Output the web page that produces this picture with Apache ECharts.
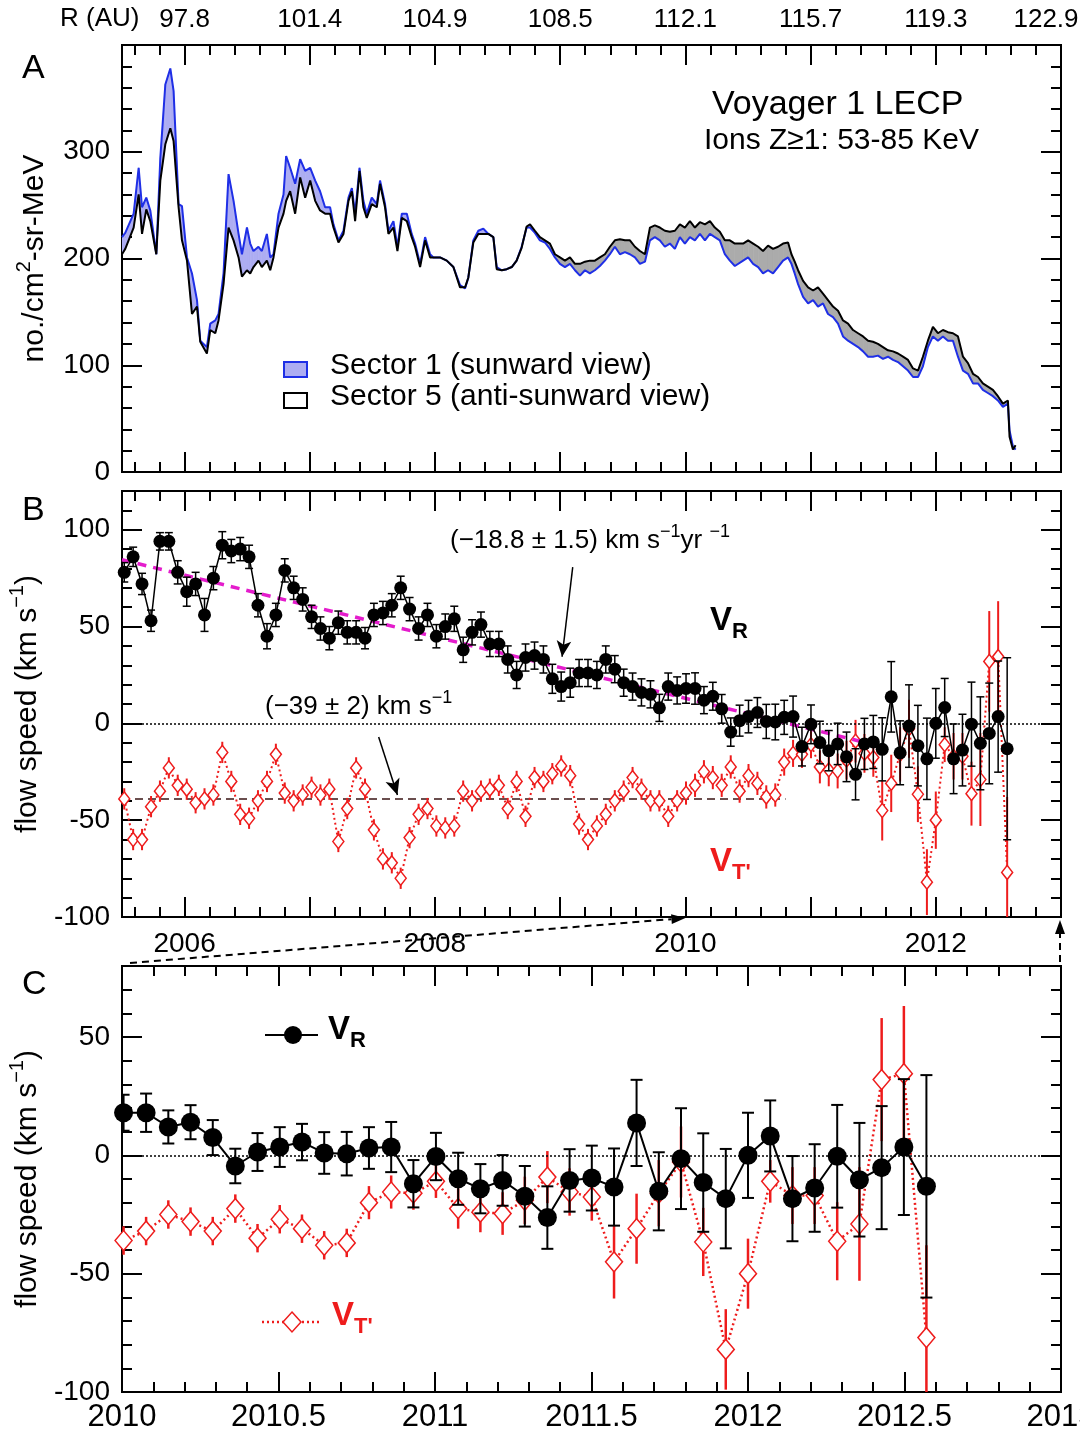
<!DOCTYPE html>
<html>
<head>
<meta charset="utf-8">
<title>Voyager 1 LECP</title>
<script src="https://cdn.jsdelivr.net/npm/echarts@6.0.0/dist/echarts.min.js"></script>
<style>
  html, body { margin: 0; padding: 0; background: #fff; }
  #chart { width: 1080px; height: 1437px; }
</style>
</head>
<body>
<div id="chart"></div>
<script>
// ---------- Panel A: 53-85 keV ion intensity, two LECP sectors ----------
const aYears = [
  2005.500, 2005.526, 2005.593, 2005.633, 2005.660, 2005.694, 2005.726, 2005.774, 2005.806, 2005.846,
  2005.886, 2005.912, 2005.952, 2005.979, 2006.019, 2006.059, 2006.099, 2006.125, 2006.178, 2006.205,
  2006.245, 2006.271, 2006.311, 2006.351, 2006.391, 2006.431, 2006.458, 2006.498, 2006.524, 2006.550,
  2006.590, 2006.617, 2006.657, 2006.684, 2006.710, 2006.750, 2006.790, 2006.811, 2006.843, 2006.883,
  2006.923, 2006.963, 2007.003, 2007.043, 2007.082, 2007.122, 2007.162, 2007.189, 2007.229, 2007.269,
  2007.309, 2007.336, 2007.362, 2007.397, 2007.428, 2007.455, 2007.495, 2007.535, 2007.561, 2007.601,
  2007.628, 2007.668, 2007.700, 2007.735, 2007.775, 2007.814, 2007.841, 2007.881, 2007.921, 2007.961,
  2007.987, 2008.040, 2008.094, 2008.147, 2008.200, 2008.240, 2008.266, 2008.306, 2008.346, 2008.386,
  2008.426, 2008.466, 2008.493, 2008.533, 2008.573, 2008.613, 2008.652, 2008.692, 2008.732, 2008.759,
  2008.798, 2008.838, 2008.878, 2008.918, 2008.958, 2008.998, 2009.038, 2009.078, 2009.118, 2009.158,
  2009.198, 2009.237, 2009.277, 2009.317, 2009.357, 2009.397, 2009.437, 2009.477, 2009.517, 2009.557,
  2009.597, 2009.637, 2009.677, 2009.717, 2009.756, 2009.796, 2009.836, 2009.876, 2009.916, 2009.956,
  2009.996, 2010.036, 2010.076, 2010.116, 2010.156, 2010.196, 2010.235, 2010.275, 2010.315, 2010.355,
  2010.395,
  2010.461, 2010.501, 2010.541, 2010.581, 2010.620, 2010.660, 2010.700, 2010.740, 2010.780, 2010.820,
  2010.847, 2010.873, 2010.900, 2010.940, 2010.980, 2011.020, 2011.059, 2011.099, 2011.139, 2011.179,
  2011.219, 2011.259, 2011.299, 2011.339, 2011.379, 2011.419, 2011.459, 2011.498, 2011.538, 2011.578,
  2011.618, 2011.658, 2011.698, 2011.738, 2011.778, 2011.818, 2011.858, 2011.897, 2011.937, 2011.977,
  2012.017, 2012.057, 2012.097, 2012.137, 2012.177, 2012.217, 2012.257, 2012.297, 2012.337, 2012.376,
  2012.416, 2012.456, 2012.496, 2012.536, 2012.576, 2012.589, 2012.616, 2012.637
];
// Sector 1 (sunward view)
const aSector1 = [
  220, 224, 242, 285, 248, 257, 245, 204, 294, 363,
  378, 357, 251, 249, 201, 186, 161, 123, 117, 139,
  142, 148, 186, 279, 254, 223, 204, 229, 214, 207,
  211, 207, 223, 201, 204, 242, 260, 296, 285, 270,
  293, 282, 285, 273, 263, 248, 248, 232, 217, 226,
  257, 266, 242, 285, 254, 242, 257, 251, 273, 251,
  226, 235, 211, 242, 242, 223, 214, 195, 220, 204,
  201, 201, 198, 192, 175, 172, 182, 217, 226, 228,
  223, 220, 192, 189, 190, 192, 198, 211, 229, 229,
  224, 217, 215, 209, 201, 195, 192, 195, 189, 184,
  189, 186, 189, 193, 198, 204, 211, 204, 206, 204,
  201, 195, 197, 217, 220, 217, 211, 214, 209, 220,
  214, 220, 217, 223, 217, 223, 220, 217, 204, 198,
  193,
  198, 201, 195, 192, 186, 189, 186, 192, 198, 201,
  195, 186, 176, 164, 158, 161, 155, 158, 148, 145,
  139, 127, 123, 120, 117, 113, 108, 108, 109, 106,
  108, 105, 103, 99, 95, 89, 89, 99, 117, 127,
  123, 127, 123, 123, 108, 95, 92, 83, 83, 77,
  74, 71, 67, 61, 64, 39, 24, 21
];
// Sector 5 (anti-sunward view)
const aSector5 = [
  204, 209, 229, 260, 223, 246, 235, 204, 273, 307,
  322, 310, 248, 217, 198, 148, 155, 122, 111, 133,
  130, 142, 176, 229, 217, 201, 183, 189, 186, 192,
  198, 192, 198, 189, 201, 229, 242, 254, 263, 242,
  276, 257, 273, 254, 245, 242, 242, 229, 215, 223,
  254, 263, 235, 282, 248, 238, 251, 248, 270, 248,
  223, 229, 207, 238, 235, 220, 211, 192, 217, 201,
  201, 201, 198, 192, 173, 173, 182, 215, 223, 223,
  223, 220, 190, 189, 190, 192, 198, 210, 230, 232,
  226, 220, 217, 214, 204, 201, 198, 201, 195, 195,
  197, 198, 198, 201, 204, 211, 217, 218, 217, 217,
  211, 207, 204, 229, 231, 229, 226, 225, 226, 232,
  229, 235, 229, 234, 232, 235, 229, 225, 217, 217,
  214,
  214, 217, 214, 211, 207, 212, 209, 211, 214, 215,
  204, 197, 189, 179, 173, 170, 173, 167, 161, 155,
  151, 142, 139, 133, 130, 127, 123, 122, 120, 117,
  114, 113, 111, 108, 105, 97, 95, 108, 123, 136,
  130, 133, 131, 130, 127, 108, 102, 92, 89, 83,
  80, 77, 71, 64, 67, 33, 21, 25
];

// Heliocentric distance printed on the top axis of panel A
const rYears = [2006, 2007, 2008, 2009, 2010, 2011, 2012, 2013];
const rLabels = ['97.8', '101.4', '104.9', '108.5', '112.1', '115.7', '119.3', '122.9'];

// ---------- Panels B and C: 26-day averaged flow speeds ----------
const flowYears = [
  2005.518, 2005.589, 2005.660, 2005.732, 2005.803, 2005.874, 2005.945, 2006.017, 2006.088, 2006.159,
  2006.230, 2006.301, 2006.373, 2006.444, 2006.515, 2006.586, 2006.658, 2006.729, 2006.800, 2006.871,
  2006.943, 2007.014, 2007.085, 2007.156, 2007.228, 2007.299, 2007.370, 2007.441, 2007.512, 2007.584,
  2007.655, 2007.726, 2007.797, 2007.869, 2007.940, 2008.011, 2008.082, 2008.154, 2008.225, 2008.296,
  2008.367, 2008.438, 2008.510, 2008.581, 2008.652, 2008.723, 2008.795, 2008.866, 2008.937, 2009.008,
  2009.080, 2009.151, 2009.222, 2009.293, 2009.364, 2009.436, 2009.507, 2009.578, 2009.649, 2009.721,
  2009.792, 2009.863, 2009.934, 2010.005, 2010.077, 2010.148, 2010.219, 2010.290, 2010.362, 2010.433,
  2010.504, 2010.575, 2010.646, 2010.718, 2010.789, 2010.860, 2010.931, 2011.003, 2011.074, 2011.145,
  2011.216, 2011.287, 2011.359, 2011.430, 2011.501, 2011.572, 2011.644, 2011.715, 2011.786, 2011.857,
  2011.929, 2012.000, 2012.071, 2012.142, 2012.213, 2012.285, 2012.356, 2012.427, 2012.498, 2012.570
];
// radial component V_R (km/s) and its uncertainty
const vR = [
  78, 86, 72, 53, 94, 94, 78, 68, 72, 56,
  75, 92, 89, 90, 86, 61, 45, 56, 79, 70,
  64, 55, 49, 44, 52, 47, 47, 44, 56, 57,
  61, 70, 59, 49, 56, 45, 50, 54, 38, 47,
  51, 41, 41, 33, 25, 34, 35, 33, 23, 19,
  21, 26, 26, 25, 33, 28, 21, 19, 16, 15,
  8, 19, 17, 18, 18, 12, 14, 7.5, -4.5, 1.4,
  3.5, 5.6, 1, 0.7, 3.1, 3.5, -12, -0.5, -9.9, -14.1,
  -10.6, -17.3, -26.3, -10.6, -9.6, -13.4, 13.7, -15.2, -1.4, -11.5,
  -18.3, 0, 8.2, -18.3, -13.8, -0.4, -10.3, -5.2, 3.5, -13.1
];
const vRErr = [
  5, 5, 5.5, 5.5, 4.5, 4.5, 6, 7.5, 6, 8.5,
  6, 7, 6, 6, 6, 6, 6.5, 6, 6, 6,
  6, 6, 6, 6, 6, 6, 6, 5.5, 6, 6,
  6, 6, 6, 6, 6, 6, 6.5, 6.5, 6.5, 6.5,
  6.5, 6.5, 6.5, 7, 7, 7, 7, 7, 7.5, 7.5,
  7.5, 7, 7, 7, 7, 7, 7, 7, 7, 7,
  7, 7, 7, 7.6, 8.1, 7, 7.2, 7.4, 7.3, 8,
  8.4, 7.7, 8.8, 9.2, 8.8, 10.6, 10, 10, 11, 10.4,
  10.7, 12.8, 13.2, 13.2, 13.7, 16.3, 18.2, 16.5, 21.3, 20.8,
  21, 18, 15, 18, 18.5, 21.7, 24, 26, 28.7, 47
];
// tangential component V_T' (km/s) and its uncertainty
const vT = [
  -39, -60, -60, -43, -35, -23, -32, -34, -41, -39,
  -37, -15, -30, -47, -49, -40, -30, -16, -36, -40,
  -37, -33, -37, -34, -61, -44, -23, -34, -55, -70,
  -72, -80, -59, -47, -44, -53, -54, -53, -35, -40,
  -35, -34, -32, -44, -30, -48, -28, -30, -26, -22,
  -27, -52, -60, -53, -47, -40, -35, -28, -34, -40,
  -40, -48, -40, -36, -32, -25, -28, -32, -22.5, -35,
  -27, -31, -38, -37, -20, -15.5, -16, -11, -22.5, -24,
  -24.6, -19, -9.2, -15.5, -17.6, -45, -31, -16, -2.8, -36.6,
  -82, -50, -11, -17, -17, -36.3, -29, 32, 34.5, -77
];
const vTErr = [
  5.5, 5.5, 5.5, 5.5, 5.5, 5.5, 5.5, 5.5, 5.5, 5.5,
  5.5, 5.5, 5.5, 5.5, 5.5, 5.5, 5.5, 5.5, 5.5, 5.5,
  5.5, 5.5, 5.5, 5.5, 5.5, 5.5, 5.5, 5.5, 5.5, 5.5,
  5.5, 5.5, 5.5, 5.5, 5.5, 5.5, 5.5, 5.5, 5.5, 5.5,
  5.5, 5.5, 5.5, 5.5, 5.5, 5.5, 5.5, 5.5, 5.5, 5.5,
  5.5, 5.5, 5.5, 5.5, 5.5, 5.5, 5.5, 5.5, 5.5, 5.5,
  5.5, 5.5, 5.5, 6, 6, 6, 6, 6, 6, 6,
  6, 6, 6, 6, 7, 7, 7, 7, 8.5, 8.5,
  9, 10, 11, 10, 10, 15.5, 14.8, 14, 15, 14.4,
  17, 14.8, 9, 12, 12, 16.5, 24, 26, 28.6, 39
];
// linear fit to V_R and mean of V_T'
const vRTrend = [[2005.5, 84.5], [2011.5, -10.9]];
const vTMean = [[2005.5, -39], [2010.8, -39]];

// ---------- drawing ----------
const FONT = "'Liberation Sans', Arial, Helvetica, sans-serif";
const INK = '#000';
const RED = '#ee1c1c';
const BLUE = '#1f2fe6';
const LAVENDER = '#adadf2';
const GREY = '#ababab';
const MAGENTA = '#e41ccc';
const tickStyle = { color: INK, width: 2 };

const chart = echarts.init(document.getElementById('chart'), null, { renderer: 'canvas' });

function axisBase(extra) {
  return Object.assign({
    type: 'value',
    axisLine: { show: true, onZero: false, lineStyle: tickStyle },
    axisTick: { show: true, inside: true, length: 20, lineStyle: tickStyle },
    minorTick: { show: true, splitNumber: 5, length: 10, lineStyle: tickStyle },
    splitLine: { show: false },
    minorSplitLine: { show: false },
    axisLabel: { show: false }
  }, extra);
}
function labels(size, formatter, margin, rich) {
  return { show: true, fontSize: size, fontFamily: FONT, color: INK, margin: margin,
           formatter: formatter, showMinLabel: true, showMaxLabel: true, hideOverlap: false, rich: rich };
}
const supRich = (size) => ({
  t: { fontSize: size, fontFamily: FONT, color: INK, lineHeight: size + 12 },
  s: { fontSize: Math.round(size * 0.66), fontFamily: FONT, color: INK, verticalAlign: 'top', lineHeight: size + 12 }
});

const longSpan = { min: 2005.5, max: 2013, splitNumber: 8 };
const zoomSpan = { min: 2010, max: 2013, interval: 0.5 };
const aSpan = { min: 0, max: 400, interval: 100 };
const bSpan = { min: -100, max: 120, interval: 50 };
const cSpan = { min: -100, max: 80, interval: 50 };

const flowName = '{t|flow speed (km s}{s|\u22121}{t|)}';

const grid = [
  { top: 45, height: 427 },
  { top: 491, height: 426 },
  { top: 966, height: 426 }
].map(g => Object.assign({ left: 122, right: 19, show: true, borderColor: INK, borderWidth: 2,
  backgroundColor: 'transparent', containLabel: false, outerBoundsMode: 'none' }, g));

// the last distance label sits a little inside the page edge
const rLabel = v => {
  const k = rYears.indexOf(v);
  if (k < 0) return '';
  return k === rLabels.length - 1 ? '{edge|' + rLabels[k] + '}' : rLabels[k];
};

const xAxis = [
  axisBase(Object.assign({ gridIndex: 0, position: 'bottom' }, longSpan)),
  axisBase(Object.assign({ gridIndex: 0, position: 'top' }, longSpan, {
    axisLabel: labels(26, rLabel, 12, {
      edge: { fontSize: 26, fontFamily: FONT, color: INK, padding: [0, 30, 0, 0] }
    })
  })),
  axisBase(Object.assign({ gridIndex: 1, position: 'bottom' }, longSpan, {
    axisLabel: labels(28, v => (Number.isInteger(v) && v % 2 === 0) ? String(v) : '', 13)
  })),
  axisBase(Object.assign({ gridIndex: 1, position: 'top' }, longSpan)),
  axisBase(Object.assign({ gridIndex: 2, position: 'bottom' }, zoomSpan, {
    axisLabel: labels(31, v => String(v), 10)
  })),
  axisBase(Object.assign({ gridIndex: 2, position: 'top' }, zoomSpan))
];

const yAxis = [
  axisBase(Object.assign({ gridIndex: 0, position: 'left' }, aSpan, {
    axisLabel: labels(28, v => v < 400 ? String(v) : '', 12),
    name: '{t|no./cm}{s|2}{t|-sr-MeV}', nameLocation: 'middle', nameRotate: 90, nameGap: 66,
    nameTextStyle: { rich: supRich(30) }
  })),
  axisBase(Object.assign({ gridIndex: 0, position: 'right' }, aSpan)),
  axisBase(Object.assign({ gridIndex: 1, position: 'left' }, bSpan, {
    axisLabel: labels(28, v => (v % 50 === 0) ? String(v) : '', 12),
    name: flowName, nameLocation: 'middle', nameRotate: 90, nameGap: 66,
    nameTextStyle: { rich: supRich(30) }
  })),
  axisBase(Object.assign({ gridIndex: 1, position: 'right' }, bSpan)),
  axisBase(Object.assign({ gridIndex: 2, position: 'left' }, cSpan, {
    axisLabel: labels(28, v => (v % 50 === 0) ? String(v) : '', 12),
    name: flowName, nameLocation: 'middle', nameRotate: 90, nameGap: 66,
    nameTextStyle: { rich: supRich(30) }
  })),
  axisBase(Object.assign({ gridIndex: 2, position: 'right' }, cSpan))
];

const onA = { xAxisIndex: 0, yAxisIndex: 0 };
const onB = { xAxisIndex: 2, yAxisIndex: 2 };
const onC = { xAxisIndex: 4, yAxisIndex: 4 };

const pairs = (xs, ys) => xs.map((x, i) => [x, ys[i]]);

// one row per interval between neighbouring samples of the two sectors
const bandRows = aYears.slice(1).map((t, k) =>
  [aYears[k], aSector1[k], aSector5[k], t, aSector1[k + 1], aSector5[k + 1]]);

// shades the gap between the sectors: lavender where sunward is higher, grey otherwise
const bandSeries = Object.assign({}, onA, {
  type: 'custom', z: 1, silent: true, clip: true,
  dimensions: ['t0', 's1a', 's5a', 't1', 's1b', 's5b'],
  encode: { x: [0, 3], y: [1, 2, 4, 5] },
  data: bandRows,
  renderItem: function (params, api) {
    const t0 = api.value(0), s1a = api.value(1), s5a = api.value(2);
    const t1 = api.value(3), s1b = api.value(4), s5b = api.value(5);
    const d0 = s1a - s5a, d1 = s1b - s5b;
    const poly = (pts, up) => ({
      type: 'polygon',
      shape: { points: pts.map(p => api.coord(p)) },
      style: { fill: up ? LAVENDER : GREY, stroke: up ? LAVENDER : GREY, lineWidth: 0.6 }
    });
    const kids = [];
    if (d0 * d1 >= 0) {
      kids.push(poly([[t0, s1a], [t1, s1b], [t1, s5b], [t0, s5a]], d0 + d1 >= 0));
    } else {
      const f = d0 / (d0 - d1);
      const tc = t0 + f * (t1 - t0);
      const vc = s1a + f * (s1b - s1a);
      kids.push(poly([[t0, s1a], [tc, vc], [t0, s5a]], d0 > 0));
      kids.push(poly([[tc, vc], [t1, s1b], [t1, s5b]], d1 > 0));
    }
    return { type: 'group', children: kids };
  }
});

const vRRows = flowYears.map((t, i) => [t, vR[i], vRErr[i]]);
const vTRows = flowYears.map((t, i) => [t, vT[i], vTErr[i]]);
const vRRowsC = vRRows.filter(r => r[0] >= 2010);
const vTRowsC = vTRows.filter(r => r[0] >= 2010);

function errorBars(axes, rows, color, lineWidth, capHalf, z) {
  return Object.assign({}, axes, {
    type: 'custom', z: z, silent: true, clip: true,
    dimensions: ['t', 'v', 'e'],
    encode: { x: 0, y: 1 },
    data: rows,
    renderItem: function (params, api) {
      const t = api.value(0), v = api.value(1), e = api.value(2);
      const hi = api.coord([t, v + e]);
      const lo = api.coord([t, v - e]);
      const style = { stroke: color, lineWidth: lineWidth };
      const kids = [{ type: 'line', shape: { x1: hi[0], y1: hi[1], x2: lo[0], y2: lo[1] }, style: style }];
      if (capHalf > 0) {
        kids.push({ type: 'line', shape: { x1: hi[0] - capHalf, y1: hi[1], x2: hi[0] + capHalf, y2: hi[1] }, style: style });
        kids.push({ type: 'line', shape: { x1: lo[0] - capHalf, y1: lo[1], x2: lo[0] + capHalf, y2: lo[1] }, style: style });
      }
      return { type: 'group', children: kids };
    }
  });
}

const zeroLine = { yAxis: 0, lineStyle: { color: INK, type: [2, 2], width: 1.5 } };

const series = [
  // ---- panel A ----
  bandSeries,
  Object.assign({}, onA, { type: 'line', name: 'Sector 1 (sunward view)', data: pairs(aYears, aSector1),
    symbol: 'none', lineStyle: { color: BLUE, width: 2 }, z: 3 }),
  Object.assign({}, onA, { type: 'line', name: 'Sector 5 (anti-sunward view)', data: pairs(aYears, aSector5),
    symbol: 'none', lineStyle: { color: INK, width: 2 }, z: 4 }),

  // ---- panel B ----
  Object.assign({}, onB, { type: 'line', data: vTMean, symbol: 'none',
    lineStyle: { color: '#3a1414', width: 1.5, type: [8, 5] }, z: 2 }),
  errorBars(onB, vTRows, RED, 2, 0, 3),
  Object.assign({}, onB, { type: 'line', name: "V_T'", data: vTRows.map(r => [r[0], r[1]]),
    symbol: 'diamond', symbolSize: [11, 14],
    itemStyle: { color: '#fff', borderColor: RED, borderWidth: 1.5 },
    lineStyle: { color: RED, width: 2, type: [2, 3] }, z: 4 }),
  Object.assign({}, onB, { type: 'line', data: vRTrend, symbol: 'none',
    lineStyle: { color: MAGENTA, width: 3.5, type: [9, 7] }, z: 5 }),
  errorBars(onB, vRRows, INK, 1.5, 4, 6),
  Object.assign({}, onB, { type: 'line', name: 'V_R', data: vRRows.map(r => [r[0], r[1]]),
    symbol: 'circle', symbolSize: 13, itemStyle: { color: INK },
    lineStyle: { color: INK, width: 1.5 }, z: 7,
    markLine: {
      silent: true, symbol: ['none', 'none'], label: { show: false },
      data: [
        zeroLine,
        [{ coord: [2009.10, 80.7], lineStyle: { color: INK, width: 1.5, type: 'solid' } },
         { coord: [2009.015, 34.4], symbol: 'arrow', symbolSize: [11, 16] }],
        [{ coord: [2007.55, -7], lineStyle: { color: INK, width: 1.5, type: 'solid' } },
         { coord: [2007.70, -37], symbol: 'arrow', symbolSize: [11, 16] }]
      ]
    }
  }),

  // ---- panel C ----
  errorBars(onC, vTRowsC, RED, 2.5, 0, 3),
  Object.assign({}, onC, { type: 'line', data: vTRowsC.map(r => [r[0], r[1]]),
    symbol: 'diamond', symbolSize: [17, 20],
    itemStyle: { color: '#fff', borderColor: RED, borderWidth: 1.5 },
    lineStyle: { color: RED, width: 2.5, type: [2, 3] }, z: 4 }),
  errorBars(onC, vRRowsC, INK, 2, 6, 6),
  Object.assign({}, onC, { type: 'line', data: vRRowsC.map(r => [r[0], r[1]]),
    symbol: 'circle', symbolSize: 19, itemStyle: { color: INK },
    lineStyle: { color: INK, width: 2 }, z: 7,
    markLine: { silent: true, symbol: ['none', 'none'], label: { show: false }, data: [zeroLine] }
  })
];

chart.setOption({
  animation: false,
  backgroundColor: '#fff',
  textStyle: { fontFamily: FONT },
  grid: grid,
  xAxis: xAxis,
  yAxis: yAxis,
  series: series
});

// ---------- text, legends and connecting arrows ----------
function text(left, top, str, size, extra) {
  return Object.assign({ type: 'text', left: left, top: top, z: 50,
    style: { text: str, fontSize: size, fontFamily: FONT, fill: INK } }, extra || {});
}
function richText(left, top, str, rich) {
  return { type: 'text', left: left, top: top, z: 50, style: { text: str, rich: rich, fontFamily: FONT, fill: INK } };
}
function vLabel(left, top, sub, color, size) {
  return richText(left, top, '{v|V}{s|' + sub + '}', {
    v: { fontSize: size, fontWeight: 'bold', fontFamily: FONT, fill: color, lineHeight: size + 12 },
    s: { fontSize: Math.round(size * 0.66), fontWeight: 'bold', fontFamily: FONT, fill: color,
         verticalAlign: 'bottom', lineHeight: size + 12 }
  });
}
const annRich = {
  t: { fontSize: 26, fontFamily: FONT, fill: INK, lineHeight: 36 },
  s: { fontSize: 18, fontFamily: FONT, fill: INK, verticalAlign: 'top', lineHeight: 36 }
};
function arrow(x1, y1, x2, y2, dash) {
  const dx = x2 - x1, dy = y2 - y1, len = Math.hypot(dx, dy);
  const ux = dx / len, uy = dy / len, head = 14, half = 5;
  const bx = x2 - ux * head, by = y2 - uy * head;
  return [
    { type: 'line', z: 50, shape: { x1: x1, y1: y1, x2: bx, y2: by },
      style: { stroke: INK, lineWidth: 2, lineDash: dash ? [7, 5] : null } },
    { type: 'polygon', z: 50, shape: { points: [[x2, y2], [bx - uy * half, by + ux * half], [bx + uy * half, by - ux * half]] },
      style: { fill: INK } }
  ];
}
const px = (axes, val) => chart.convertToPixel(axes, val);
const cLeftTop = px(onC, [2010, 80]);
const bAt2010 = px(onB, [2010, -100]);
const cRightTop = px(onC, [2013, 80]);
const bAt2013 = px(onB, [2013, -100]);

const graphics = [
  text(22, 52, 'A', 34),
  text(22, 494, 'B', 34),
  text(22, 968, 'C', 34),
  text(60, 6, 'R (AU)', 26),
  text(712, 88, 'Voyager 1 LECP', 34),
  text(704, 126, 'Ions Z\u22651: 53-85 KeV', 30),
  // panel A legend
  { type: 'rect', z: 50, shape: { x: 284, y: 362, width: 23, height: 15 }, style: { fill: LAVENDER, stroke: BLUE, lineWidth: 2 } },
  { type: 'rect', z: 50, shape: { x: 284, y: 393, width: 23, height: 15 }, style: { fill: '#fff', stroke: INK, lineWidth: 2 } },
  text(330, 351, 'Sector 1 (sunward view)', 30),
  text(330, 382, 'Sector 5 (anti-sunward view)', 30),
  // panel B annotations
  richText(450, 523, '{t|(\u221218.8 \u00b1 1.5) km s}{s|\u22121}{t|yr }{s|\u22121}', annRich),
  richText(265, 689, '{t|(\u221239 \u00b1 2) km s}{s|\u22121}', annRich),
  vLabel(710, 604, 'R', INK, 33),
  vLabel(710, 845, "T'", RED, 33),
  // panel C legend
  { type: 'line', z: 50, shape: { x1: 265, y1: 1035, x2: 318, y2: 1035 }, style: { stroke: INK, lineWidth: 2 } },
  { type: 'circle', z: 51, shape: { cx: 293, cy: 1035, r: 9 }, style: { fill: INK } },
  vLabel(328, 1013, 'R', INK, 33),
  { type: 'line', z: 50, shape: { x1: 262, y1: 1322, x2: 320, y2: 1322 }, style: { stroke: RED, lineWidth: 2.5, lineDash: [2, 3] } },
  { type: 'polygon', z: 51, shape: { points: [[292, 1312], [301, 1322], [292, 1332], [283, 1322]] }, style: { fill: '#fff', stroke: RED, lineWidth: 1.5 } },
  vLabel(332, 1299, "T'", RED, 33)
].concat(
  arrow(cLeftTop[0] + 8, cLeftTop[1] - 3, bAt2010[0], bAt2010[1] + 1, true),
  arrow(cRightTop[0] - 1, cRightTop[1] - 4, bAt2013[0] - 1, bAt2013[1] + 3, true)
);

chart.setOption({ graphic: graphics });
</script>
</body>
</html>
